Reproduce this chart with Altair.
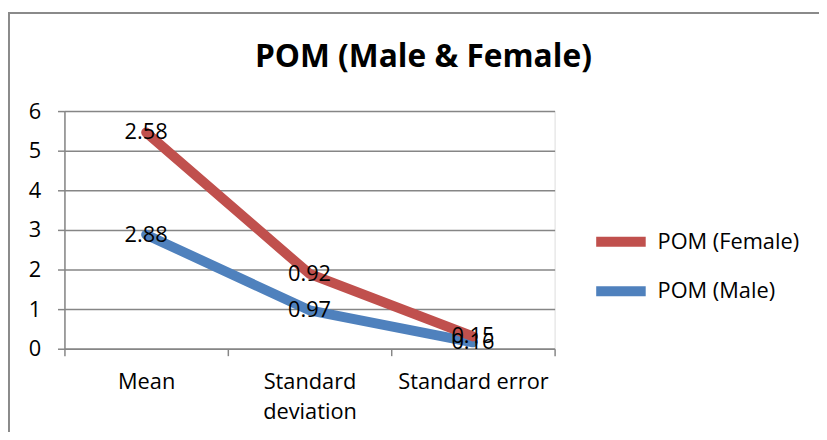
import altair as alt
import pandas as pd

categories = ["Mean", "Standard deviation", "Standard error"]
male = [2.88, 0.97, 0.16]
female = [2.58, 0.92, 0.15]
series = ["POM (Male)", "POM (Female)"]
legend_order = ["POM (Female)", "POM (Male)"]
colors = ["#C0504D", "#4F81BD"]
y_ticks = [0, 1, 2, 3, 4, 5, 6]

rows = []
for i, c in enumerate(categories):
    rows.append({"category": c, "series": series[0], "order": 0, "value": male[i]})
    rows.append({"category": c, "series": series[1], "order": 1, "value": female[i]})
df = pd.DataFrame(rows)

FONT = "Open Sans"
FS = 22
GRAY = "#868686"

x_enc = alt.X(
    "category:N",
    sort=categories,
    scale=alt.Scale(type="band", paddingInner=0, paddingOuter=0),
    bandPosition=0.5,
    axis=alt.Axis(
        title=None,
        tickBand="extent",
        labelAngle=0,
        labelExpr="length(datum.label) > 15 ? split(datum.label, ' ') : datum.label",
        labelFont=FONT,
        labelFontSize=FS,
        labelColor="#000000",
        labelPadding=16,
        labelLineHeight=30,
        domainColor=GRAY,
        domainWidth=1.5,
        tickColor=GRAY,
        tickWidth=1.5,
        tickSize=7,
        grid=False,
    ),
)

y_enc = alt.Y(
    "y1:Q",
    scale=alt.Scale(domain=[0, 6], nice=False),
    axis=alt.Axis(
        title=None,
        values=y_ticks,
        labelOverlap=False,
        labelFont=FONT,
        labelFontSize=FS,
        labelColor="#000000",
        labelPadding=17,
        domainColor=GRAY,
        domainWidth=1.5,
        tickColor=GRAY,
        tickWidth=1.5,
        tickSize=7,
        gridColor=GRAY,
        gridWidth=1.5,
    ),
)

base = alt.Chart(df).transform_stack(
    stack="value",
    groupby=["category"],
    as_=["y0", "y1"],
    sort=[alt.SortField("order")],
)

lines = base.mark_line(strokeWidth=10, strokeCap="round", strokeJoin="round").encode(
    x=x_enc,
    y=y_enc,
    color=alt.Color(
        "series:N",
        scale=alt.Scale(domain=legend_order, range=colors),
        legend=alt.Legend(
            title=None,
            orient="none",
            legendX=532,
            legendY=102,
            symbolType="stroke",
            symbolStrokeWidth=10,
            symbolSize=2500,
            labelFont=FONT,
            labelFontSize=FS,
            labelColor="#000000",
            labelOffset=7,
            rowPadding=0,
        ),
    ),
    detail="series:N",
)

labels = base.mark_text(font=FONT, fontSize=FS, color="#000000", align="center", baseline="middle").encode(
    x=x_enc,
    y=y_enc,
    text=alt.Text("value:Q", format=".2f"),
)

border_df = pd.DataFrame({"k": [0]})
border_left = alt.Chart(border_df).mark_rule(color="#8a8a8a", strokeWidth=2).encode(
    x=alt.value(-56), y=alt.value(-99), y2=alt.value(330)
)
border_top = alt.Chart(border_df).mark_rule(color="#8a8a8a", strokeWidth=2).encode(
    x=alt.value(-57), x2=alt.value(770), y=alt.value(-99)
)

chart = (
    alt.layer(border_left, border_top, lines, labels)
    .properties(
        width=495,
        height=240,
        autosize=alt.AutoSizeParams(type="none"),
        padding={"left": 57, "top": 102, "right": 267, "bottom": 82},
        title=alt.TitleParams(
            "POM (Male & Female)",
            font=FONT,
            fontSize=32,
            fontWeight="bold",
            color="#000000",
            anchor="middle",
            frame="group",
            baseline="alphabetic",
            dx=115,
            offset=-87,
        ),
    )
    .configure_view(stroke=None)
    .configure(background="white")
)

chart.save("out.html", embed_options={"renderer": "svg", "actions": False})
